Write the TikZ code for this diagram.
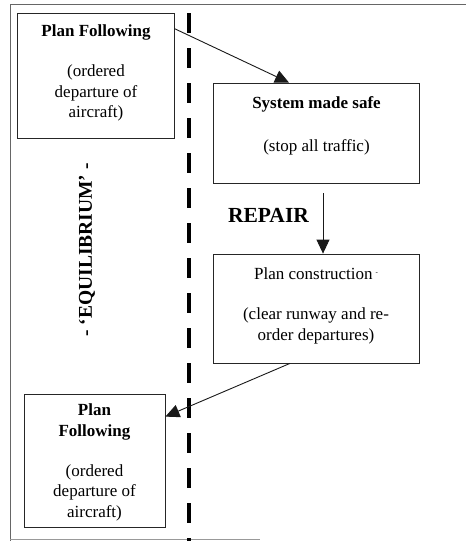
\documentclass[tikz,border=0pt]{standalone}
\usepackage{fontspec}
\setmainfont{Liberation Serif}
\usetikzlibrary{arrows.meta}
\begin{document}
\begin{tikzpicture}[x=1pt,y=-1pt,
  stagebox/.style={draw=black!85,line width=0.8pt,rectangle,inner sep=0pt},
  stagetext/.style={align=center,inner sep=0pt,font=\fontsize{17}{20.5}\selectfont},
  flow/.style={draw=black!90,line width=0.9pt,-{Triangle[length=14pt,width=13pt]}},
  divider/.style={line width=4.2pt,dash pattern=on 20pt off 15pt},
  frame/.style={draw=black!60,line width=0.6pt}]
\useasboundingbox (0,0) rectangle (466,541);

% outer frame
\coordinate (ftl) at (10,4);
\coordinate (ftr) at (466,4);
\coordinate (fbl) at (10,539);
\coordinate (fbr) at (260,539);
\coordinate (fbot) at (10,541);
\draw[frame] (ftr) -- (ftl) -- (fbot);
\draw[frame,draw=black!40] (fbl) -- (fbr);

% dividing dashed line
\coordinate (dtop) at (189,13);
\coordinate (dbot) at (189,541);
\draw[divider] (dtop) -- (dbot);

% boxes
\node[stagebox,minimum width=157pt,minimum height=125pt] (box1) at (95.5,75.5) {};
\node[stagebox,minimum width=206pt,minimum height=100pt] (box2) at (316,133) {};
\node[stagebox,minimum width=206pt,minimum height=109pt] (box3) at (316,308.5) {};
\node[stagebox,minimum width=141pt,minimum height=133pt] (box4) at (94.5,460.5) {};

% box texts
\node[stagetext] (t1) at (96,73) {\textbf{Plan Following}\\[19.5pt](ordered\\departure of\\aircraft)};
\node[stagetext] (t2) at (316.5,125.5) {\textbf{System made safe}\\[22.5pt](stop all traffic)};
\node[stagetext] (t3) at (316,306) {Plan construction\,\raisebox{5pt}{\scriptsize -}\\[19.5pt](clear runway and re-\\order departures)};
\node[stagetext] (t4) at (94.5,462.5) {\textbf{Plan}\\\textbf{Following}\\[19.5pt](ordered\\departure of\\aircraft)};

% labels
\node[inner sep=0pt,font=\fontsize{21.5}{24}\selectfont\bfseries] (repair) at (268.5,215) {REPAIR};
\node[inner sep=0pt,rotate=90,font=\fontsize{19.5}{22}\selectfont\bfseries] (equil) at (87,250) {- ‘EQUILIBRIUM’ -};

% transitions
\draw[flow] ([yshift=-16pt]box1.north east) -- ([xshift=-27pt]box2.north);
\draw[flow] ([xshift=7pt,yshift=-10pt]box2.south) -- ([xshift=7pt]box3.north);
\draw[flow] ([xshift=-26pt]box3.south) -- ([yshift=-23pt]box4.north east);
\end{tikzpicture}
\end{document}
